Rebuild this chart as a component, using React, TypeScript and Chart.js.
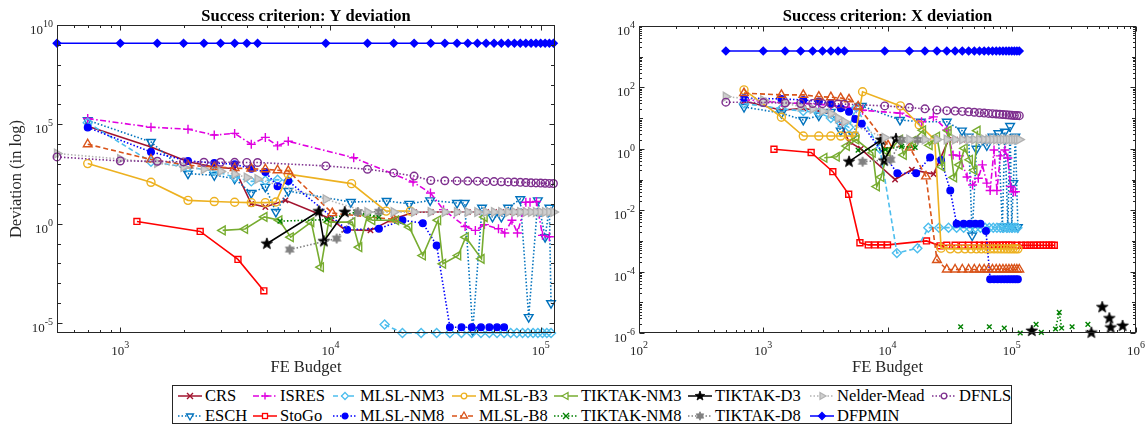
import React, { useEffect, useRef } from 'react';
import { Chart, registerables } from 'chart.js';

Chart.register(...registerables);

// ---------------------------------------------------------------------------
// Budgets shared by DFPMIN, DFNLS and Nelder-Mead (both criteria)
const budgetsGrid = [500, 1000, 1500, 2000, 2500, 3000, 3500, 4000, 4500, 9500, 15000, 20000, 25000, 30000, 35000, 40000, 45000, 50000, 55000, 60000, 65000, 70000, 75000, 80000, 85000, 90000, 95000, 100000, 105000, 110000, 115000];

const dfpminYDev = [1.2e9, 1.2e9, 1.2e9, 1.2e9, 1.2e9, 1.2e9, 1.2e9, 1.2e9, 1.2e9, 1.2e9, 1.2e9, 1.2e9, 1.2e9, 1.2e9, 1.2e9, 1.2e9, 1.2e9, 1.2e9, 1.2e9, 1.2e9, 1.2e9, 1.2e9, 1.2e9, 1.2e9, 1.2e9, 1.2e9, 1.2e9, 1.2e9, 1.2e9, 1.2e9, 1.2e9];
const dfpminXDev = [1540, 1540, 1540, 1540, 1540, 1540, 1540, 1540, 1540, 1540, 1540, 1540, 1540, 1540, 1540, 1540, 1540, 1540, 1540, 1540, 1540, 1540, 1540, 1540, 1540, 1540, 1540, 1540, 1540, 1540, 1540];

const dfnlsYDev = [2300, 1440, 1390, 1290, 1240, 1240, 1230, 1210, 1200, 810, 550, 360, 250, 150, 145, 142, 140, 138, 135, 132, 130, 127, 124, 121, 118, 115, 113, 111, 109, 107, 105];
const dfnlsXDev = [33, 32, 31, 30, 30, 29.5, 29, 29, 28.5, 25, 22, 20, 18.4, 17.5, 17, 16.5, 16, 15.5, 15, 14.6, 14.2, 13.9, 13.6, 13.3, 13, 12.8, 12.6, 12.4, 12.2, 12.1, 12];

const nelderYDev = [3400, 1800, 1140, 710, 550, 435, 310, 210, 178, 17, 3.85, 3.85, 3.85, 3.85, 3.85, 3.85, 3.85, 3.85, 3.85, 3.85, 3.85, 3.85, 3.85, 3.85, 3.85, 3.85, 3.85, 3.85, 3.85, 3.85, 3.85];
const nelderXDev = [50, 38, 30, 24, 20, 17, 14, 10, 7.6, 2.3, 2.0, 2.0, 2.0, 2.0, 2.0, 2.0, 2.0, 2.0, 2.0, 2.0, 2.0, 2.0, 2.0, 2.0, 2.0, 2.0, 2.0, 2.0, 2.0, 2.0, 2.0];

// CRS
const crsBudgetsY = [700, 1400, 2100, 2800, 3500, 4200, 4900, 6100, 10000, 11700, 15500, 20000, 25000, 30000, 35000, 40000, 45000, 50000, 55000, 60000, 65000, 70000, 75000, 80000, 85000, 90000, 95000, 100000, 105000, 110000];
const crsYDev = [8.1e4, 7.3e3, 1300, 710, 590, 10, 6.9, 15, 1.8, 0.5, 0.46, 1.8, 3.8, 3.9, 3.9, 3.9, 3.9, 3.9, 3.9, 3.9, 3.9, 3.9, 3.9, 3.9, 3.9, 3.9, 3.9, 3.9, 3.9, 3.9];
const crsBudgetsX = [700, 1400, 2100, 2800, 3500, 4200, 4900, 6100, 11500, 15700, 23500, 31000, 35000, 40000, 45000, 50000, 55000, 60000, 65000, 70000, 75000, 80000, 85000, 90000, 95000, 100000, 105000, 110000];
const crsXDev = [36, 18, 21, 17, 14, 6.8, 1.7, 1.0, 0.10, 0.21, 0.15, 1.95, 2.0, 2.0, 2.0, 2.0, 2.0, 2.0, 2.0, 2.0, 2.0, 2.0, 2.0, 2.0, 2.0, 2.0, 2.0, 2.0];

// ESCH
const eschBudgetsY = [700, 1400, 2100, 2800, 3500, 4200, 4900, 5500, 6300, 12500, 18500, 23700, 29800, 40000, 43500, 47500, 52600, 59000, 65000, 70000, 80000, 87700, 97000, 105000, 110000, 112000];
const eschYDev = [1.6e5, 1.3e4, 330, 275, 185, 35, 71, 3.9, 44, 12.3, 14, 10, 15, 11, 11, 4.2e-6, 6.4, 2.2, 2.2, 6.4, 17, 2e-5, 15, 0.21, 6.4, 1e-4];
const eschBudgetsX = [700, 1400, 2100, 2800, 3500, 4200, 5300, 6200, 12600, 18500, 30000, 39700, 45000, 48000, 52000, 58000, 63000, 70000, 78000, 84000, 88000, 93000, 97000, 100000, 103000, 107000, 112000];
const eschXDev = [23, 14.5, 8.7, 12, 16, 3.9, 2.8, 25, 8.7, 7.6, 7.6, 3.9, 2.5, 1.5e-3, 1.0, 2.0, 1.3, 2.5, 3.2, 2.9e-3, 3.6, 2.9e-3, 5.5, 2.9e-3, 0.076, 2.5, 2.8e-3];

// ISRES
const isresBudgetsY = [700, 1400, 2100, 2800, 3500, 4200, 4900, 5600, 6300, 12900, 24700, 29900, 34500, 43700, 48900, 54000, 63000, 67500, 73000, 77500, 85000, 89000, 95500, 102000, 110000];
const isresYDev = [1.96e5, 7.2e4, 5.7e4, 2.9e4, 3.5e4, 1e4, 2.2e4, 8.3e3, 1.4e4, 2.1e3, 125, 35, 5.1, 0.73, 0.46, 0.9, 0.56, 0.34, 1.5, 0.34, 12, 12, 13, 0.26, 0.22];
const isresBudgetsX = [700, 1400, 2100, 2800, 3500, 4200, 4900, 5600, 6300, 12600, 18800, 23400, 30000, 33700, 38000, 43700, 48400, 53800, 58000, 63000, 67000, 72000, 76000, 81000, 88000, 93000, 98000, 103000, 107000];
const isresXDev = [40, 32, 30, 28, 26, 24, 22, 20, 18, 14.5, 7.6, 11, 4.1, 0.63, 0.59, 0.12, 0.066, 0.11, 0.3, 0.076, 0.044, 0.91, 0.044, 0.59, 0.91, 0.5, 0.059, 0.04, 0.04];

// StoGo
const stogoBudgetsY = [1200, 2400, 3630, 4820];
const stogoYDev = [1.3, 0.41, 0.016, 4.2e-4];
const stogoBudgetsX = [1220, 2430, 3630, 4870, 6000, 7000, 7900, 8900, 10000, 20600, 26500, 30000, 35000, 40000, 45000, 50000, 55000, 60000, 65000, 70000, 75000, 80000, 85000, 90000, 95000, 100000, 110000, 120000, 130000, 140000, 150000, 160000, 170000, 180000, 190000, 200000, 210000, 220000];
const stogoXDev = [0.97, 0.76, 0.18, 0.033, 8.7e-4, 7.4e-4, 7.4e-4, 7.4e-4, 7.4e-4, 1.0e-3, 6.9e-4, 7.2e-4, 7.2e-4, 7.2e-4, 7.2e-4, 7.2e-4, 7.2e-4, 7.2e-4, 7.2e-4, 7.2e-4, 7.2e-4, 7.2e-4, 7.2e-4, 7.2e-4, 7.2e-4, 7.2e-4, 7.2e-4, 7.2e-4, 7.2e-4, 7.2e-4, 7.2e-4, 7.2e-4, 7.2e-4, 7.2e-4, 7.2e-4, 7.2e-4, 7.2e-4, 7.2e-4];

// MLSL-NM3 (null = no successful run at that budget)
const nm3BudgetsY = [700, 1400, 2100, 2800, 3500, 4200, 4900, 5600, 6300, 12000, 18100, 22000, 27000, 32000, 37000, 42000, 47000, 52000, 57000, 62000, 67000, 72000, 77000, 82000, 87000, 92000, 97000, 102000, 107000, 112000];
const nm3YDev = [1.2e5, 1300, 700, 450, 220, 135, 150, 165, 140, null, 8.4e-6, 3.2e-6, 3.2e-6, 3.2e-6, 3.2e-6, 3.2e-6, 3.2e-6, 3.2e-6, 3.2e-6, 3.2e-6, 3.2e-6, 3.2e-6, 3.2e-6, 3.2e-6, 3.2e-6, 3.2e-6, 3.2e-6, 3.2e-6, 3.2e-6, 3.2e-6];
const nm3BudgetsX = [700, 1400, 2100, 2800, 3500, 4200, 4900, 5600, 8700, 11900, 17400, 21300, 26000, 31000, 36000, 41000, 46000, 51000, 56000, 61000, 66000, 71000, 76000, 81000, 86000, 91000, 96000, 101000, 106000, 111000];
const nm3XDev = [30, 20, 17, 15, 10, 7, 5, 22, 1.0, 4e-4, 5.8e-4, 2.7e-3, 2.7e-3, 2.7e-3, 2.7e-3, 2.7e-3, 2.7e-3, 2.7e-3, 2.7e-3, 2.7e-3, 2.7e-3, 2.7e-3, 2.7e-3, 2.7e-3, 2.7e-3, 2.7e-3, 2.7e-3, 2.7e-3, 2.7e-3, 2.7e-3];

// MLSL-NM8
const nm8BudgetsY = [700, 1400, 2100, 2800, 3500, 4200, 4900, 5600, 6300, 12000, 17000, 22000, 27500, 32000, 37000, 42000, 47000, 52000, 57000, 62000, 67000];
const nm8YDev = [6.9e4, 4100, 1440, 1140, 980, 590, 400, 76, 141, 0.5, 0.56, 1.5, 1.07, 0.081, 6.2e-6, 6.2e-6, 6.2e-6, 6.2e-6, 6.2e-6, 6.2e-6, 6.2e-6];
const nm8BudgetsX = [700, 1400, 2100, 2800, 3500, 4200, 4900, 5500, 6200, 12000, 17000, 22000, 27000, 32000, 36000, 41000, 46000, 51000, 56000, 62000, 67000, 72000, 77000, 82000, 87000, 92000, 97000, 102000, 107000, 112000];
const nm8XDev = [45, 42, 39, 35, 30, 21, 16, 9.3, 6.5, 0.16, 0.16, 0.52, 0.43, 0.044, 3.6e-3, 3.6e-3, 3.6e-3, 3.6e-3, 3.6e-3, 2.1e-3, 5.6e-5, 5.6e-5, 5.6e-5, 5.6e-5, 5.6e-5, 5.6e-5, 5.6e-5, 5.6e-5, 5.6e-5, 5.6e-5];

// MLSL-B3
const b3BudgetsY = [700, 1400, 2100, 2800, 3500, 4200, 4900, 5500, 6300, 12600, 18400, 24000];
const b3YDev = [1060, 121, 15, 13, 12, 11.5, 11.5, 12.4, 310, 104, 4.3, 4.3];
const b3BudgetsX = [700, 1400, 2100, 2800, 3500, 4200, 4900, 5500, 6300, 12700, 18000, 24000, 27000, 32000, 37000, 42000, 47000, 52000, 57000, 62000, 67000, 72000, 77000, 82000, 87000, 92000, 97000, 102000, 107000, 112000];
const b3XDev = [83, 10.7, 2.6, 2.6, 2.6, 2.6, 2.6, 2.6, 72, 25, 6, 2, 5.8e-4, 5.5e-4, 5.5e-4, 5.5e-4, 5.5e-4, 5.5e-4, 5.5e-4, 5.5e-4, 5.5e-4, 5.5e-4, 5.5e-4, 5.5e-4, 5.5e-4, 5.5e-4, 5.5e-4, 5.5e-4, 5.5e-4, 5.5e-4];

// MLSL-B8
const b8BudgetsY = [700, 1400, 2100, 2800, 3500, 4200, 4900, 5600, 6300, 10200, 20000];
const b8YDev = [1e4, 1700, 870, 710, 630, 590, 550, 490, 450, 3.4, 1.65];
const b8BudgetsX = [700, 1400, 2100, 2800, 3500, 4200, 4900, 5800, 10100, 15100, 20400, 25000, 30000, 35000, 40000, 45000, 50000, 55000, 60000, 65000, 70000, 75000, 80000, 85000, 90000, 95000, 100000, 105000, 110000, 115000];
const b8XDev = [65, 57, 57, 50, 48, 45, 41, 24, 1.3, 1.1, 0.126, 2.4e-4, 1.17e-4, 1.17e-4, 1.17e-4, 1.17e-4, 1.17e-4, 1.17e-4, 1.17e-4, 1.17e-4, 1.17e-4, 1.17e-4, 1.17e-4, 1.17e-4, 1.17e-4, 1.17e-4, 1.17e-4, 1.17e-4, 1.17e-4, 1.17e-4];

// TIKTAK-NM3
const tkNm3BudgetsY = [3070, 3920, 4850, 5710, 6470, 8100, 9000, 9800, 12700, 13700, 15000, 15800, 20500, 23700, 27500, 32500, 34300, 40500, 44000, 52300, 54100];
const tkNm3YDev = [0.46, 0.54, 2.2, 1.5, 0.21, 1.2, 6.5e-3, 1.2, 1.2, 0.066, 2.6, 1.5, 1.5, 0.68, 0.025, 1.5, 9.6e-3, 0.025, 0.21, 0.017, 2.15];
const tkNm3BudgetsX = [3100, 3900, 4700, 5600, 7600, 8200, 8900, 10000, 12600, 13500, 16000, 19300, 21800, 25000, 27500, 31000, 34300, 38000, 41700, 46000, 50000, 53000];
const tkNm3XDev = [0.51, 0.55, 1.23, 2.0, 0.74, 0.059, 0.12, 0.8, 2.0, 0.63, 1.8, 4.0, 1.3, 2.5, 0.26, 3.9, 0.117, 0.3, 1.04, 0.44, 0.2, 3.9];

// TIKTAK-NM8
const tkNm8BudgetsY = [5750, 9600, 13200, 17000];
const tkNm8YDev = [1.35, 1.6, 3.85, 2.15];
const tkNm8BudgetsX = [5800, 9600, 13000, 16700, 25000, 38800, 50000, 66000, 75000, 87000, 100000, 117000, 135000, 157000, 165000, 173000, 200000, 225000, 241000, 252000, 280000, 306000, 350000, 410000];
const tkNm8XDev = [0.91, 0.95, 1.2, 1.1, null, 1.6e-6, null, 1.6e-6, null, 1.45e-6, null, 1.0e-6, null, 1.9e-6, null, 1.05e-6, null, 1.35e-6, 4.7e-6, 1.45e-6, null, 1.6e-6, null, 1.9e-6];

// TIKTAK-D3
const tkD3BudgetsY = [4980, 8800, 9300, 11700];
const tkD3YDev = [0.098, 4.2, 0.13, 3.85];
const tkD3BudgetsX = [4900, 8900, 9400, 11700, 60000, 145000, 250000, 437000, 480000, 535000, 570000, 610000, 617000, 625000, 700000, 780000];
const tkD3XDev = [0.38, 1.95, 0.41, 2.1, null, 1.17e-6, null, 1.02e-6, null, 6.9e-6, null, 3.0e-6, null, 1.5e-6, null, 1.7e-6];

// TIKTAK-D8
const tkD8BudgetsY = [6400, 10700, 13500, 17000];
const tkD8YDev = [0.05, 0.18, 3.9, 4.0];
const tkD8BudgetsX = [6300, 10600, 13000, 17500];
const tkD8XDev = [0.38, 0.44, 1.95, 1.95];

// ---------------------------------------------------------------------------
const SERIF = "'Liberation Serif', 'Times New Roman', serif";
const DASH = [5, 3];
const DOT = [1.5, 2];
const DASHDOT = [6, 2.5, 1.5, 2.5];

type Sty = {
  color: string;
  dash: number[];
  marker: string;
  rot: number;
  fill: string | null;
  r: number;
};

const STYLES: Record<string, Sty> = {
  'CRS': { color: '#A2142F', dash: [], marker: 'crossRot', rot: 0, fill: null, r: 3.8 },
  'ESCH': { color: '#0072BD', dash: DOT, marker: 'triangle', rot: 180, fill: null, r: 5 },
  'ISRES': { color: '#E000E0', dash: DASHDOT, marker: 'cross', rot: 0, fill: null, r: 4.5 },
  'StoGo': { color: '#FF0000', dash: [], marker: 'rect', rot: 0, fill: null, r: 4.2 },
  'MLSL-NM3': { color: '#4DBEEE', dash: DASH, marker: 'rectRot', rot: 0, fill: null, r: 4.5 },
  'MLSL-NM8': { color: '#0000FF', dash: DOT, marker: 'circle', rot: 0, fill: '#0000FF', r: 3.3 },
  'MLSL-B3': { color: '#EDB120', dash: [], marker: 'circle', rot: 0, fill: null, r: 4 },
  'MLSL-B8': { color: '#D95319', dash: DASH, marker: 'triangle', rot: 0, fill: null, r: 5 },
  'TIKTAK-NM3': { color: '#77AC30', dash: [], marker: 'triangle', rot: 270, fill: null, r: 5 },
  'TIKTAK-NM8': { color: '#008000', dash: DOT, marker: 'crossRot', rot: 0, fill: null, r: 3.3 },
  'TIKTAK-D3': { color: '#000000', dash: [], marker: 'pentagram', rot: 0, fill: '#000000', r: 5 },
  'TIKTAK-D8': { color: '#808080', dash: DOT, marker: 'hexagram', rot: 0, fill: '#808080', r: 4.5 },
  'Nelder-Mead': { color: '#B3B3B3', dash: DOT, marker: 'triangle', rot: 90, fill: '#CFCFCF', r: 5 },
  'DFPMIN': { color: '#0000FF', dash: [], marker: 'rectRot', rot: 0, fill: '#0000FF', r: 3.8 },
  'DFNLS': { color: '#7E2F8E', dash: DOT, marker: 'circle', rot: 0, fill: null, r: 3.8 },
};

// Plot order (later entries are drawn on top)
const SERIES: { name: string; y: [number[], (number | null)[]]; x: [number[], (number | null)[]] }[] = [
  { name: 'CRS', y: [crsBudgetsY, crsYDev], x: [crsBudgetsX, crsXDev] },
  { name: 'ESCH', y: [eschBudgetsY, eschYDev], x: [eschBudgetsX, eschXDev] },
  { name: 'ISRES', y: [isresBudgetsY, isresYDev], x: [isresBudgetsX, isresXDev] },
  { name: 'StoGo', y: [stogoBudgetsY, stogoYDev], x: [stogoBudgetsX, stogoXDev] },
  { name: 'MLSL-NM3', y: [nm3BudgetsY, nm3YDev], x: [nm3BudgetsX, nm3XDev] },
  { name: 'MLSL-NM8', y: [nm8BudgetsY, nm8YDev], x: [nm8BudgetsX, nm8XDev] },
  { name: 'MLSL-B3', y: [b3BudgetsY, b3YDev], x: [b3BudgetsX, b3XDev] },
  { name: 'MLSL-B8', y: [b8BudgetsY, b8YDev], x: [b8BudgetsX, b8XDev] },
  { name: 'TIKTAK-NM3', y: [tkNm3BudgetsY, tkNm3YDev], x: [tkNm3BudgetsX, tkNm3XDev] },
  { name: 'TIKTAK-NM8', y: [tkNm8BudgetsY, tkNm8YDev], x: [tkNm8BudgetsX, tkNm8XDev] },
  { name: 'TIKTAK-D3', y: [tkD3BudgetsY, tkD3YDev], x: [tkD3BudgetsX, tkD3XDev] },
  { name: 'TIKTAK-D8', y: [tkD8BudgetsY, tkD8YDev], x: [tkD8BudgetsX, tkD8XDev] },
  { name: 'Nelder-Mead', y: [budgetsGrid, nelderYDev], x: [budgetsGrid, nelderXDev] },
  { name: 'DFPMIN', y: [budgetsGrid, dfpminYDev], x: [budgetsGrid, dfpminXDev] },
  { name: 'DFNLS', y: [budgetsGrid, dfnlsYDev], x: [budgetsGrid, dfnlsXDev] },
];

const LEGEND_ROWS = [
  ['CRS', 'ISRES', 'MLSL-NM3', 'MLSL-B3', 'TIKTAK-NM3', 'TIKTAK-D3', 'Nelder-Mead', 'DFNLS'],
  ['ESCH', 'StoGo', 'MLSL-NM8', 'MLSL-B8', 'TIKTAK-NM8', 'TIKTAK-D8', 'DFPMIN'],
];
const LEGEND_COL_X = [177, 252, 332, 451, 553, 687, 809, 931];
const LEGEND_ROW_Y = [396, 416];
const LEGEND_BOX = { left: 172, top: 385, right: 1012, bottom: 424 };

// ---------------------------------------------------------------------------
function starPoints(n: number, outer: number, inner: number, cx: number, cy: number) {
  const pts: [number, number][] = [];
  for (let i = 0; i < n * 2; i++) {
    const rr = i % 2 === 0 ? outer : inner;
    const a = -Math.PI / 2 + (i * Math.PI) / n;
    pts.push([cx + rr * Math.cos(a), cy + rr * Math.sin(a)]);
  }
  return pts;
}

function starCanvas(n: number, outer: number, inner: number, color: string) {
  const size = Math.ceil(outer * 2 + 2);
  const c = document.createElement('canvas');
  c.width = size;
  c.height = size;
  const g = c.getContext('2d')!;
  const pts = starPoints(n, outer, inner, size / 2, size / 2);
  g.beginPath();
  pts.forEach(([px, py], i) => (i ? g.lineTo(px, py) : g.moveTo(px, py)));
  g.closePath();
  g.fillStyle = color;
  g.fill();
  g.strokeStyle = color;
  g.lineWidth = 0.8;
  g.stroke();
  return c;
}

function drawPow(ctx: CanvasRenderingContext2D, exp: number, x: number, y: number, align: 'center' | 'right') {
  const base = '10';
  const sup = String(exp);
  ctx.font = `13px ${SERIF}`;
  const wb = ctx.measureText(base).width;
  ctx.font = `10px ${SERIF}`;
  const ws = ctx.measureText(sup).width;
  const total = wb + ws;
  const x0 = align === 'center' ? x - total / 2 : x - total;
  ctx.textAlign = 'left';
  ctx.textBaseline = 'alphabetic';
  ctx.font = `13px ${SERIF}`;
  ctx.fillText(base, x0, y);
  ctx.font = `10px ${SERIF}`;
  ctx.fillText(sup, x0 + wb, y - 7);
}

const boxAxes = {
  id: 'boxAxes',
  afterDatasetsDraw(chart: any, _args: any, o: any) {
    const { ctx, chartArea: a } = chart;
    const xs = chart.scales.x;
    const ys = chart.scales.y;
    const L = Math.round(a.left) + 0.5;
    const R = Math.round(a.right) - 0.5;
    const T = Math.round(a.top) + 0.5;
    const B = Math.round(a.bottom) - 0.5;
    ctx.save();
    ctx.setLineDash([]);
    ctx.strokeStyle = '#262626';
    ctx.lineWidth = 1;
    ctx.strokeRect(L, T, R - L, B - T);

    const inRange = (s: any, v: number) => v >= s.min * (1 - 1e-9) && v <= s.max * (1 + 1e-9);
    const decades = (s: any) => {
      const out: number[] = [];
      for (let d = Math.floor(Math.log10(s.min)); d <= Math.ceil(Math.log10(s.max)); d++) out.push(d);
      return out;
    };

    ctx.beginPath();
    // x ticks (bottom + top, pointing inward)
    for (const d of decades(xs)) {
      for (let m = 1; m < 10; m++) {
        const v = m * Math.pow(10, d);
        if (!inRange(xs, v)) continue;
        const px = Math.round(xs.getPixelForValue(v)) + 0.5;
        const len = m === 1 ? 5 : 2.5;
        ctx.moveTo(px, B);
        ctx.lineTo(px, B - len);
        ctx.moveTo(px, T);
        ctx.lineTo(px, T + len);
      }
    }
    // y ticks (left + right)
    for (const d of decades(ys)) {
      const subs = o.yMinor === 'sub' ? [1, 2, 3, 4, 5, 6, 7, 8, 9] : [1];
      for (const m of subs) {
        const v = m * Math.pow(10, d);
        if (!inRange(ys, v)) continue;
        const py = Math.round(ys.getPixelForValue(v)) + 0.5;
        const len = m === 1 && d % o.yStep === 0 ? 5 : m === 1 ? 3.5 : 2.5;
        ctx.moveTo(L, py);
        ctx.lineTo(L + len, py);
        ctx.moveTo(R, py);
        ctx.lineTo(R - len, py);
      }
    }
    ctx.stroke();

    // tick labels
    ctx.fillStyle = '#262626';
    for (const d of decades(xs)) {
      const v = Math.pow(10, d);
      if (!inRange(xs, v)) continue;
      drawPow(ctx, d, xs.getPixelForValue(v), B + 22, 'center');
    }
    for (const d of decades(ys)) {
      const v = Math.pow(10, d);
      if (!inRange(ys, v) || d % o.yStep !== 0) continue;
      drawPow(ctx, d, L - 4.5, ys.getPixelForValue(v) + 9, 'right');
    }

    // titles
    const cx = (a.left + a.right) / 2;
    ctx.textAlign = 'center';
    ctx.textBaseline = 'alphabetic';
    ctx.fillStyle = '#000';
    ctx.font = `bold 16.5px ${SERIF}`;
    ctx.fillText(o.title, cx, 20.5);
    ctx.fillStyle = '#262626';
    ctx.font = `16.5px ${SERIF}`;
    ctx.fillText(o.xTitle, cx, 372);
    if (o.yTitle) {
      ctx.save();
      ctx.translate(17, (a.top + a.bottom) / 2);
      ctx.rotate(-Math.PI / 2);
      ctx.textBaseline = 'middle';
      ctx.fillText(o.yTitle, 0, 0);
      ctx.restore();
    }
    ctx.restore();
  },
};

function buildDatasets(which: 'x' | 'y', stars: Record<string, HTMLCanvasElement>) {
  const n = SERIES.length;
  return SERIES.map((s, i) => {
    const st = STYLES[s.name];
    const [budgets, devs] = s[which];
    const pointStyle = st.marker === 'pentagram' || st.marker === 'hexagram' ? stars[st.marker] : st.marker;
    return {
      label: s.name,
      data: budgets.map((b, k) => ({ x: b, y: devs[k] })),
      borderColor: st.color,
      backgroundColor: st.color,
      borderWidth: 1.6,
      borderDash: st.dash,
      pointStyle,
      pointRadius: st.r,
      pointRotation: st.rot,
      pointBorderColor: st.color,
      pointBackgroundColor: st.fill ?? 'rgba(0,0,0,0)',
      pointBorderWidth: 1.4,
      tension: 0,
      spanGaps: false,
      clip: false,
      order: n - i,
    };
  });
}

function makeConfig(which: 'x' | 'y', stars: Record<string, HTMLCanvasElement>) {
  const isY = which === 'y';
  return {
    type: 'line',
    data: { datasets: buildDatasets(which, stars) },
    plugins: [boxAxes],
    options: {
      animation: false,
      responsive: false,
      devicePixelRatio: 1,
      events: [],
      layout: isY
        ? { padding: { left: 57, right: 25, top: 25, bottom: 47 } }
        : { padding: { left: 59, right: 12, top: 26, bottom: 47 } },
      scales: {
        x: isY
          ? { type: 'logarithmic', min: 500, max: 117000, display: false }
          : { type: 'logarithmic', min: 100, max: 1e6, display: false },
        y: isY
          ? { type: 'logarithmic', min: Math.pow(10, -5.5), max: 1e10, display: false }
          : { type: 'logarithmic', min: 1e-6, max: 1e4, display: false },
      },
      plugins: {
        legend: { display: false },
        tooltip: { enabled: false },
        boxAxes: isY
          ? { title: 'Success criterion: Y deviation', xTitle: 'FE Budget', yTitle: 'Deviation (in log)', yStep: 5, yMinor: 'decade' }
          : { title: 'Success criterion: X deviation', xTitle: 'FE Budget', yTitle: '', yStep: 2, yMinor: 'sub' },
      },
    },
  } as any;
}

function Glyph({ st }: { st: Sty }) {
  const cx = 13;
  const cy = 6;
  const stroke = st.color;
  const fill = st.fill ?? 'none';
  let mk: React.ReactNode = null;
  if (st.marker === 'crossRot') {
    const r = 3;
    mk = <path d={`M${cx - r} ${cy - r}L${cx + r} ${cy + r}M${cx - r} ${cy + r}L${cx + r} ${cy - r}`} stroke={stroke} strokeWidth={1.4} fill="none" />;
  } else if (st.marker === 'cross') {
    const r = 3.5;
    mk = <path d={`M${cx - r} ${cy}L${cx + r} ${cy}M${cx} ${cy - r}L${cx} ${cy + r}`} stroke={stroke} strokeWidth={1.4} fill="none" />;
  } else if (st.marker === 'rectRot') {
    const r = 3.5;
    mk = <polygon points={`${cx},${cy - r} ${cx + r},${cy} ${cx},${cy + r} ${cx - r},${cy}`} stroke={stroke} strokeWidth={1.3} fill={st.fill ?? '#fff'} />;
  } else if (st.marker === 'circle') {
    mk = <circle cx={cx} cy={cy} r={2.8} stroke={stroke} strokeWidth={1.3} fill={st.fill ?? '#fff'} />;
  } else if (st.marker === 'rect') {
    mk = <rect x={cx - 2.5} y={cy - 2.5} width={5} height={5} stroke={stroke} strokeWidth={1.3} fill="#fff" />;
  } else if (st.marker === 'triangle') {
    const r = 4;
    const pts = [0, 120, 240]
      .map((d) => {
        const a = ((st.rot + d) * Math.PI) / 180;
        return `${cx + r * Math.sin(a)},${cy - r * Math.cos(a)}`;
      })
      .join(' ');
    mk = <polygon points={pts} stroke={stroke} strokeWidth={1.3} fill={st.fill ?? '#fff'} />;
  } else if (st.marker === 'pentagram' || st.marker === 'hexagram') {
    const pts = st.marker === 'pentagram' ? starPoints(5, 5, 2.1, cx, cy) : starPoints(6, 4.3, 2.4, cx, cy);
    mk = <polygon points={pts.map((p) => p.join(',')).join(' ')} stroke={stroke} strokeWidth={0.8} fill={fill} />;
  }
  return (
    <svg width={26} height={12} style={{ display: 'block', flex: '0 0 auto' }}>
      <line x1={1} y1={cy} x2={25} y2={cy} stroke={st.color} strokeWidth={1.5} strokeDasharray={st.dash.length ? st.dash.join(' ') : undefined} />
      {mk}
    </svg>
  );
}

function Legend() {
  const b = LEGEND_BOX;
  return (
    <div
      style={{
        position: 'absolute',
        left: b.left,
        top: b.top,
        width: b.right - b.left,
        height: b.bottom - b.top,
        boxSizing: 'border-box',
        border: '1px solid #262626',
        background: '#fff',
      }}
    >
      {LEGEND_ROWS.map((row, ri) =>
        row.map((name, ci) => (
          <div
            key={name}
            style={{
              position: 'absolute',
              left: LEGEND_COL_X[ci] - b.left - 1,
              top: LEGEND_ROW_Y[ri] - b.top - 1 - 8,
              height: 16,
              display: 'flex',
              alignItems: 'center',
              whiteSpace: 'nowrap',
            }}
          >
            <Glyph st={STYLES[name]} />
            <span style={{ marginLeft: 2, font: `16.5px ${SERIF}`, lineHeight: '16px', color: '#000' }}>{name}</span>
          </div>
        ))
      )}
    </div>
  );
}

export default function App() {
  const leftRef = useRef<HTMLCanvasElement>(null);
  const rightRef = useRef<HTMLCanvasElement>(null);

  useEffect(() => {
    const stars = {
      pentagram: starCanvas(5, 6, 2.5, '#000000'),
      hexagram: starCanvas(6, 5, 2.8, '#808080'),
    };
    const c1 = new Chart(leftRef.current!, makeConfig('y', stars));
    const c2 = new Chart(rightRef.current!, makeConfig('x', stars));
    return () => {
      c1.destroy();
      c2.destroy();
    };
  }, []);

  return (
    <div style={{ position: 'fixed', left: 0, top: 0, width: 1148, height: 426, background: '#fff', overflow: 'hidden' }}>
      <canvas ref={leftRef} width={580} height={380} style={{ position: 'absolute', left: 0, top: 0, width: 580, height: 380 }} />
      <canvas ref={rightRef} width={568} height={380} style={{ position: 'absolute', left: 580, top: 0, width: 568, height: 380 }} />
      <Legend />
    </div>
  );
}
